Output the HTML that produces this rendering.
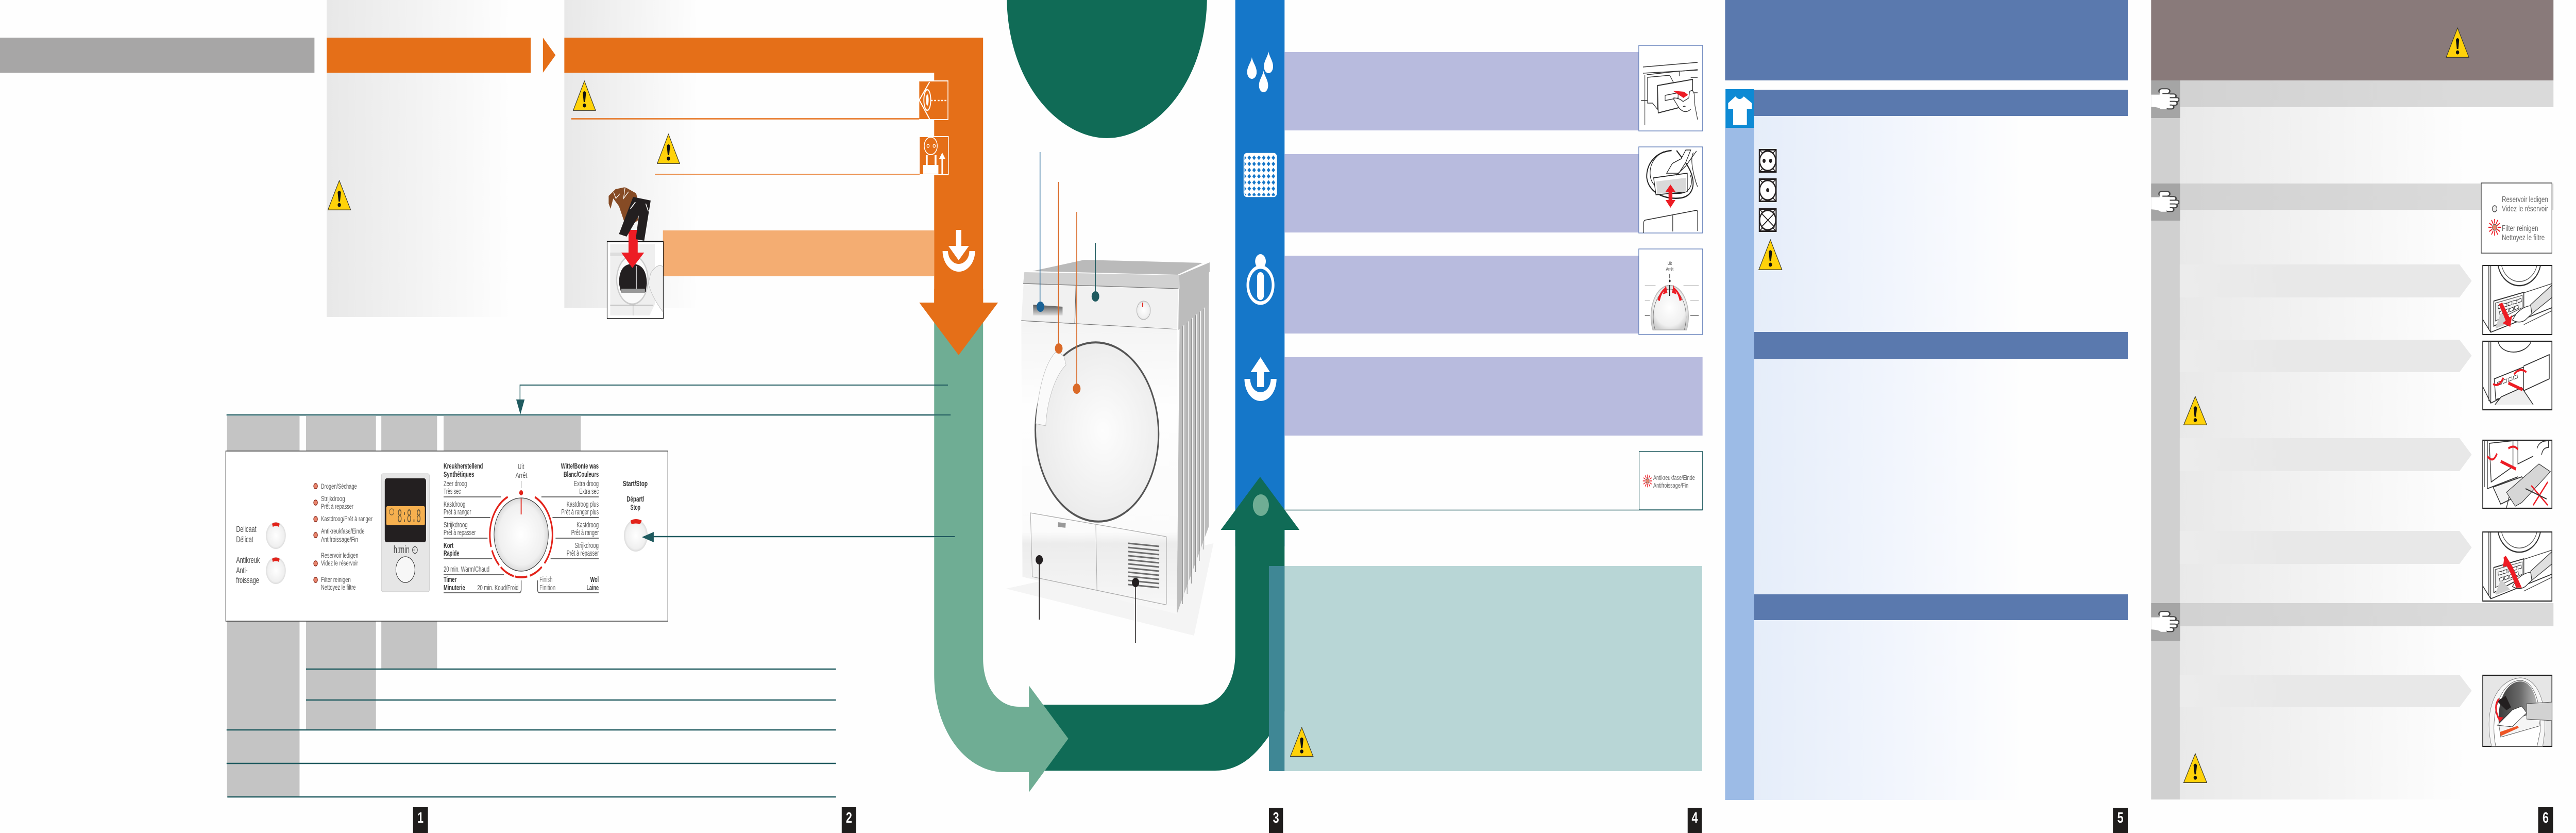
<!DOCTYPE html>
<html><head><meta charset="utf-8"><title>Dryer quick guide</title>
<style>
html,body{margin:0;padding:0;background:#fefefe;width:100%;height:100%;overflow:hidden}
svg{display:block;width:100vw;height:100vh}
text{font-family:"Liberation Sans",sans-serif}
</style></head><body>
<svg xmlns="http://www.w3.org/2000/svg" viewBox="0 0 6742 1616" preserveAspectRatio="none">
<defs>
<linearGradient id="g1" gradientUnits="userSpaceOnUse" x1="855" x2="1340" y1="0" y2="0"><stop offset="0" stop-color="#e8e8e8"/><stop offset="1" stop-color="#fefefe"/></linearGradient>
<linearGradient id="g2" gradientUnits="userSpaceOnUse" x1="1477" x2="1830" y1="0" y2="0"><stop offset="0" stop-color="#e8e8e8"/><stop offset="1" stop-color="#fefefe"/></linearGradient>
<linearGradient id="g5" gradientUnits="userSpaceOnUse" x1="4591" x2="5300" y1="0" y2="0"><stop offset="0" stop-color="#e5edf9"/><stop offset=".5" stop-color="#f1f5fd"/><stop offset="1" stop-color="#fefefe"/></linearGradient>
<linearGradient id="g6" gradientUnits="userSpaceOnUse" x1="5705" x2="6460" y1="0" y2="0"><stop offset="0" stop-color="#e9e9e9"/><stop offset=".5" stop-color="#f3f3f3"/><stop offset="1" stop-color="#fefefe"/></linearGradient>
<linearGradient id="g6b" gradientUnits="userSpaceOnUse" x1="5705" x2="6460" y1="0" y2="0"><stop offset="0" stop-color="#d2d2d2"/><stop offset="1" stop-color="#dadada"/></linearGradient>
<linearGradient id="gb" gradientUnits="userSpaceOnUse" x1="5705" x2="6000" y1="0" y2="0"><stop offset="0" stop-color="#ececec"/><stop offset="1" stop-color="#e8e8e8"/></linearGradient>
<linearGradient id="body" x1="0" x2="0" y1="0" y2="1"><stop offset="0" stop-color="#f4f4f4"/><stop offset=".3" stop-color="#fefefe"/><stop offset=".72" stop-color="#fbfbfb"/><stop offset=".76" stop-color="#ececec"/><stop offset="1" stop-color="#f8f8f8"/></linearGradient>
<radialGradient id="knob" cx=".5" cy=".5" r=".55"><stop offset="0" stop-color="#fff"/><stop offset=".75" stop-color="#f0f0f0"/><stop offset="1" stop-color="#cfcfcf"/></radialGradient>
<radialGradient id="door" cx=".55" cy=".5" r=".6"><stop offset="0" stop-color="#fdfdfd"/><stop offset="1" stop-color="#e9e9e9"/></radialGradient>
<linearGradient id="handle" x1="0" x2="0" y1="0" y2="1"><stop offset="0" stop-color="#555"/><stop offset="1" stop-color="#ddd"/></linearGradient>
<linearGradient id="drum" x1="0" x2="1" y1="0" y2="0"><stop offset="0" stop-color="#3c3c3c"/><stop offset=".55" stop-color="#6a6a6a"/><stop offset="1" stop-color="#bbb"/></linearGradient>
<pattern id="mesh" width="12.6" height="12" patternUnits="userSpaceOnUse"><rect width="12.6" height="12" fill="#fff"/><path d="M6.3 1.5L11 6L6.3 10.5L1.6 6Z" fill="#1577c9"/></pattern>
<symbol id="w" viewBox="0 0 100 100" preserveAspectRatio="none"><path d="M50 2L98 97H2Z" fill="#ffd20a" stroke="#3c3a2e" stroke-width="2.4"/><path d="M43 40Q50 30 57 40L53 70H47Z" fill="#111"/><ellipse cx="50" cy="81" rx="7" ry="6.5" fill="#111"/></symbol>
<symbol id="drop" viewBox="0 0 24 42" preserveAspectRatio="none"><path d="M12 0C14 10 24 18 24 29A12 13 0 0 1 0 29C0 18 10 10 12 0Z" fill="#fff"/></symbol>
<symbol id="hand" viewBox="0 0 100 100" preserveAspectRatio="none"><g fill="#fff" stroke="#444" stroke-width="5"><rect x="28" y="3" width="38" height="22" rx="10"/><rect x="58" y="27" width="30" height="18" rx="8"/><rect x="58" y="44" width="41" height="18" rx="8"/><rect x="58" y="61" width="34" height="18" rx="8"/><rect x="52" y="78" width="28" height="18" rx="8"/></g><path d="M0 30H30V12H40V28H66V90H55V97H34Q28 88 0 86Z" fill="#fff"/></symbol>
<symbol id="star" viewBox="0 0 40 40"><path d="M29 20H39M11 20H1M27.8 24.500L36.500 29.500M12.200 15.500L3.500 10.500M24.500 27.800L29.500 36.500M15.500 12.200L10.500 3.500M20 29V39M20 11V1M15.500 27.800L10.500 36.500M24.500 12.200L29.500 3.500M12.200 24.500L3.500 29.500M27.800 15.500L36.500 10.500" stroke="#ed1c24" stroke-width="2.600" fill="none"/><circle cx="20" cy="20" r="7" fill="#e9846c" stroke="#555" stroke-width="1.500"/></symbol>
<symbol id="care" viewBox="0 0 47 46" preserveAspectRatio="none"><rect x="1.500" y="1.500" width="44" height="43" fill="#fff" stroke="#231f20" stroke-width="3"/><path d="M2 2L10 8M45 2L37 8M2 44L10 38M45 44L37 38" stroke="#231f20" stroke-width="2"/><ellipse cx="23.500" cy="23" rx="21" ry="19" fill="#fff" stroke="#231f20" stroke-width="3"/></symbol>
<symbol id="doorimg" viewBox="0 0 182 133">
<rect width="182" height="133" fill="#fff"/>
<ellipse cx="96" cy="-11" rx="57" ry="50" fill="#fff" stroke="#333" stroke-width="2.500"/>
<ellipse cx="96" cy="-11" rx="48" ry="42" fill="#fff" stroke="#555" stroke-width="1.500"/>
<path d="M16 0V125M21 0V130M0 105L21 130L182 82" fill="none" stroke="#333" stroke-width="1.800"/>
<path d="M29 69L108 52V87L29 118Z" fill="#fff" stroke="#333" stroke-width="2"/>
<path d="M33 73L104 58V82L33 108Z" fill="#f3f3f3" stroke="#555" stroke-width="1.300"/>
<path d="M40 78l10-2l1 6l-10 2ZM53 75l10-2l1 6l-10 2ZM66 72l10-2l1 6l-10 2ZM79 69l10-2l1 6l-10 2ZM92 66l9-2l1 6l-9 2ZM44 90l10-3l1 6l-10 3ZM57 87l10-3l1 6l-10 3ZM70 84l10-3l1 6l-10 3ZM83 80l10-3l1 6l-10 3Z" fill="#fff" stroke="#333" stroke-width="1.200"/>
<path d="M33 120L48 92L72 112L36 122Z" fill="#cfcfcf"/>
<path d="M108 53L182 35V88L108 115" fill="none" stroke="#444" stroke-width="1.400"/>
<path d="M126 76L182 38V62L129 94Z" fill="#e0e0e0" stroke="#444" stroke-width="1.500"/>
<path d="M126 78Q105 80 88 94L78 106Q96 114 112 106L129 94Z" fill="#fff" stroke="#333" stroke-width="1.500"/>
</symbol>
</defs>

<rect width="6742" height="1616" fill="#fefefe"/>

<!-- PAGE 1 -->
<rect x="0" y="73" width="823" height="68" fill="#a7a6a6"/>
<rect x="855" y="0" width="500" height="615" fill="url(#g1)"/>
<rect x="855" y="73" width="534" height="68" fill="#e56f18"/>
<path d="M1421 73L1454 107L1421 141Z" fill="#e56f18"/>
<use href="#w" x="857" y="349" width="62" height="60"/>

<!-- teal leader lines -->
<g stroke="#1f5a5f" fill="none">
<path d="M2481 747H1361V776" stroke-width="2"/>
<path d="M593 805H2488" stroke-width="2.500"/>
</g>
<path d="M1351 775H1373L1362 804Z" fill="#1f5a5f"/>

<!-- grey columns -->
<g fill="#c4c4c4">
<rect x="594" y="807" width="190" height="68"/><rect x="801" y="807" width="183" height="68"/><rect x="998" y="807" width="146" height="68"/><rect x="1161" y="807" width="359" height="68"/>
<rect x="594" y="1205" width="190" height="340"/><rect x="801" y="1205" width="183" height="210"/><rect x="998" y="1205" width="146" height="92"/>
</g>
<g stroke="#1f5a5f" stroke-width="2.500">
<path d="M801 1298H2188M801 1358H2188M593 1416H2188M593 1481H2188M595 1546H2188"/>
</g>

<!-- control panel -->
<rect x="591" y="875" width="1157" height="330" fill="#fff" stroke="#444" stroke-width="1.600"/>
<g fill="#444" font-size="17">
<text x="618" y="1032" textLength="53" lengthAdjust="spacingAndGlyphs">Delicaat</text>
<text x="618" y="1052" textLength="45" lengthAdjust="spacingAndGlyphs">Délicat</text>
<text x="618" y="1092" textLength="62" lengthAdjust="spacingAndGlyphs">Antikreuk</text>
<text x="618" y="1112" textLength="30" lengthAdjust="spacingAndGlyphs">Anti-</text>
<text x="618" y="1131" textLength="60" lengthAdjust="spacingAndGlyphs">froissage</text>
</g>
<circle cx="722" cy="1039" r="26" fill="url(#knob)"/><circle cx="722" cy="1107" r="26" fill="url(#knob)"/>
<path d="M712 1016Q722 1011 732 1016L730 1022Q722 1019 714 1022Z" fill="#e2231a"/>
<path d="M712 1084Q722 1079 732 1084L730 1090Q722 1087 714 1090Z" fill="#e2231a"/>
<g fill="#e9846c" stroke="#8c2a1a" stroke-width="1.500">
<circle cx="826" cy="943" r="5"/><circle cx="826" cy="975" r="5"/><circle cx="826" cy="1007" r="5"/><circle cx="826" cy="1038" r="5"/><circle cx="826" cy="1093" r="5"/><circle cx="826" cy="1125" r="5"/>
</g>
<g fill="#555" font-size="14">
<text x="840" y="948" textLength="94" lengthAdjust="spacingAndGlyphs">Drogen/Séchage</text>
<text x="840" y="972" textLength="63" lengthAdjust="spacingAndGlyphs">Strijkdroog</text>
<text x="840" y="987" textLength="85" lengthAdjust="spacingAndGlyphs">Prêt à repasser</text>
<text x="840" y="1011" textLength="135" lengthAdjust="spacingAndGlyphs">Kastdroog/Prêt à ranger</text>
<text x="840" y="1035" textLength="114" lengthAdjust="spacingAndGlyphs">Antikreukfase/Einde</text>
<text x="840" y="1051" textLength="97" lengthAdjust="spacingAndGlyphs">Antifroissage/Fin</text>
<text x="840" y="1082" textLength="98" lengthAdjust="spacingAndGlyphs">Reservoir ledigen</text>
<text x="840" y="1097" textLength="97" lengthAdjust="spacingAndGlyphs">Videz le réservoir</text>
<text x="840" y="1129" textLength="78" lengthAdjust="spacingAndGlyphs">Filter reinigen</text>
<text x="840" y="1144" textLength="91" lengthAdjust="spacingAndGlyphs">Nettoyez le filtre</text>
</g>
<!-- display -->
<rect x="998" y="919" width="126" height="229" rx="4" fill="#e6e6e6" stroke="#c8c8c8"/>
<rect x="1007" y="928" width="108" height="124" rx="5" fill="#231f20"/>
<rect x="1011" y="982" width="101" height="37" rx="3" fill="#f6b04f"/>
<text x="1040" y="1013" font-size="37" fill="#6d5a38" textLength="62" lengthAdjust="spacingAndGlyphs" style="font-family:'Liberation Mono',monospace">8:8.8</text>
<circle cx="1025" cy="993" r="6" fill="none" stroke="#6d5a38" stroke-width="1.300"/>
<text x="1030" y="1073" font-size="20" fill="#444" textLength="42" lengthAdjust="spacingAndGlyphs">h:min</text>
<circle cx="1086" cy="1067" r="6.500" fill="none" stroke="#444" stroke-width="1.300"/>
<path d="M1086 1062V1067H1082" fill="none" stroke="#444"/>
<circle cx="1061" cy="1105" r="25" fill="#f7f7f7" stroke="#333" stroke-width="1.200"/>
<!-- programme labels -->
<g fill="#555" font-size="15">
<text x="1161" y="909" textLength="103" lengthAdjust="spacingAndGlyphs" font-weight="700" fill="#333">Kreukherstellend</text>
<text x="1161" y="925" textLength="80" lengthAdjust="spacingAndGlyphs" font-weight="700" fill="#333">Synthétiques</text>
<text x="1161" y="943" textLength="61" lengthAdjust="spacingAndGlyphs">Zeer droog</text>
<text x="1161" y="958" textLength="45" lengthAdjust="spacingAndGlyphs">Très sec</text>
<text x="1161" y="983" textLength="57" lengthAdjust="spacingAndGlyphs">Kastdroog</text>
<text x="1161" y="998" textLength="72" lengthAdjust="spacingAndGlyphs">Prêt à ranger</text>
<text x="1161" y="1023" textLength="63" lengthAdjust="spacingAndGlyphs">Strijkdroog</text>
<text x="1161" y="1038" textLength="84" lengthAdjust="spacingAndGlyphs">Prêt à repasser</text>
<text x="1161" y="1063" textLength="26" lengthAdjust="spacingAndGlyphs" font-weight="700" fill="#333">Kort</text>
<text x="1161" y="1078" textLength="41" lengthAdjust="spacingAndGlyphs" font-weight="700" fill="#333">Rapide</text>
<text x="1161" y="1109" textLength="120" lengthAdjust="spacingAndGlyphs">20 min. Warm/Chaud</text>
<text x="1161" y="1129" textLength="34" lengthAdjust="spacingAndGlyphs" font-weight="700" fill="#333">Timer</text>
<text x="1161" y="1145" textLength="56" lengthAdjust="spacingAndGlyphs" font-weight="700" fill="#333">Minuterie</text>
<text x="1249" y="1145" textLength="108" lengthAdjust="spacingAndGlyphs">20 min. Koud/Froid</text>
<text x="1468" y="909" textLength="99" lengthAdjust="spacingAndGlyphs" font-weight="700" fill="#333">Witte/Bonte was</text>
<text x="1475" y="925" textLength="92" lengthAdjust="spacingAndGlyphs" font-weight="700" fill="#333">Blanc/Couleurs</text>
<text x="1502" y="943" textLength="65" lengthAdjust="spacingAndGlyphs">Extra droog</text>
<text x="1516" y="958" textLength="51" lengthAdjust="spacingAndGlyphs">Extra sec</text>
<text x="1483" y="983" textLength="84" lengthAdjust="spacingAndGlyphs">Kastdroog plus</text>
<text x="1469" y="998" textLength="98" lengthAdjust="spacingAndGlyphs">Prêt à ranger plus</text>
<text x="1509" y="1023" textLength="58" lengthAdjust="spacingAndGlyphs">Kastdroog</text>
<text x="1495" y="1038" textLength="72" lengthAdjust="spacingAndGlyphs">Prêt à ranger</text>
<text x="1504" y="1063" textLength="63" lengthAdjust="spacingAndGlyphs">Strijkdroog</text>
<text x="1483" y="1078" textLength="84" lengthAdjust="spacingAndGlyphs">Prêt à repasser</text>
<text x="1412" y="1129" textLength="34" lengthAdjust="spacingAndGlyphs" fill="#777">Finish</text>
<text x="1412" y="1145" textLength="42" lengthAdjust="spacingAndGlyphs" fill="#777">Finition</text>
<text x="1545" y="1129" textLength="22" lengthAdjust="spacingAndGlyphs" font-weight="700" fill="#333">Wol</text>
<text x="1535" y="1145" textLength="32" lengthAdjust="spacingAndGlyphs" font-weight="700" fill="#333">Laine</text>
<text x="1355" y="910" textLength="17" lengthAdjust="spacingAndGlyphs">Uit</text>
<text x="1349" y="927" textLength="31" lengthAdjust="spacingAndGlyphs">Arrêt</text>
<text x="1630" y="943" textLength="65" lengthAdjust="spacingAndGlyphs" font-weight="700" fill="#333">Start/Stop</text>
<text x="1640" y="973" textLength="46" lengthAdjust="spacingAndGlyphs" font-weight="700" fill="#333">Départ/</text>
<text x="1650" y="989" textLength="26" lengthAdjust="spacingAndGlyphs" font-weight="700" fill="#333">Stop</text>
</g>
<g stroke="#555" stroke-width="1.800" fill="none">
<path d="M1161 964H1311M1161 1004H1283M1161 1044H1276M1161 1084H1288M1161 1115H1319"/>
<path d="M1417 964H1567M1446 1004H1567M1454 1044H1567M1441 1084H1567"/>
<path d="M1161 1150H1358Q1364 1150 1364 1144V1126"/>
<path d="M1407 1126V1144Q1407 1150 1413 1150H1567"/>
<path d="M1364 933V947" stroke-width="1.200"/>
</g>
<circle cx="1364" cy="956" r="5" fill="#e2231a"/>
<circle cx="1364" cy="1038" r="82" pathLength="360" fill="none" stroke="#e2231a" stroke-width="4" stroke-dasharray="106 7 25 5 23 2 27 4 24 5 81 51" stroke-dashoffset="-26" transform="rotate(-90 1364 1038)"/>
<circle cx="1364" cy="1037" r="71" fill="url(#knob)" stroke="#333" stroke-width="1.300"/>
<path d="M1364 967V998" stroke="#e2231a" stroke-width="2.500"/>
<circle cx="1664" cy="1039" r="31" fill="url(#knob)"/>
<path d="M1650 1010Q1664 1004 1680 1010L1675 1017Q1664 1014 1653 1017Z" fill="#e2231a"/>
<path d="M2499 1041H1706" stroke="#1f5a5f" stroke-width="2.500"/>
<path d="M1711 1032V1052L1680 1042Z" fill="#1f5a5f"/>
<rect x="1081" y="1566" width="39" height="50" fill="#1f1d1c"/><text x="1100.500" y="1596" font-size="29" font-weight="700" fill="#fff" text-anchor="middle">1</text>

<!-- PAGE 2 -->
<rect x="1477" y="0" width="360" height="597" fill="url(#g2)"/>
<rect x="1735" y="447" width="710" height="89" fill="#f4ad72"/>
<path d="M1477 73H2573V587H2612L2509 689L2406 587H2445V141H1477Z" fill="#e56f18"/>
<use href="#w" x="1499" y="156" width="61" height="60"/>
<use href="#w" x="1719" y="259" width="61" height="60"/>
<path d="M1495 230.500H2406" stroke="#e56f18" stroke-width="2.500"/>
<path d="M1714 338H2407" stroke="#e56f18" stroke-width="1.500"/>
<!-- eye icon -->
<rect x="2406" y="157" width="75" height="75" fill="#e56f18"/>
<path d="M2406 157H2481V232H2406" fill="none" stroke="#fff" stroke-width="2"/>
<g fill="none" stroke="#fff" stroke-width="2.500">
<path d="M2433 159L2406 194L2433 231"/>
<ellipse cx="2427" cy="194" rx="9" ry="20"/>
<ellipse cx="2427" cy="194" rx="3.500" ry="11" fill="#fff" stroke="none"/>
<path d="M2436 195H2478" stroke-dasharray="5 4"/>
</g>
<!-- plug icon -->
<rect x="2407" y="265" width="75" height="74" fill="#e56f18"/>
<path d="M2407 265H2482V339H2407" fill="none" stroke="#fff" stroke-width="2"/>
<ellipse cx="2436" cy="283" rx="17" ry="17" fill="none" stroke="#fff" stroke-width="2"/>
<circle cx="2429" cy="283" r="3" fill="none" stroke="#fff" stroke-width="1.500"/><circle cx="2445" cy="283" r="3" fill="none" stroke="#fff" stroke-width="1.500"/>
<path d="M2416 320H2423V301H2428V320H2446V301H2451V320H2456V337H2416Z" fill="#fff"/>
<path d="M2464 338V308H2458L2466 296L2474 308H2468V338Z" fill="#fff"/>
<!-- washer thumb -->
<rect x="1589" y="468" width="147" height="150" fill="#fff" stroke="#111" stroke-width="1.500"/>
<rect x="1589" y="467" width="147" height="3" fill="#111"/>
<path d="M1597 474H1714V590L1700 612H1597Z" fill="#efefef"/>
<path d="M1597 490H1640V497H1597Z" fill="#ddd"/>
<ellipse cx="1655" cy="543" rx="41" ry="47" fill="#fafafa" stroke="#ccc" stroke-width="3"/>
<path d="M1620 550Q1620 512 1655 512Q1692 512 1693 550L1690 566H1625Z" fill="#231f20"/>
<path d="M1666 516V566" stroke="#fff"/>
<path d="M1626 560H1688V568H1626Z" fill="#999"/>
<path d="M1597 592H1710M1657 592V612" stroke="#999" fill="none"/>
<path d="M1703 530Q1720 510 1735 517V605Q1705 575 1697 550Z" fill="#f1f1f1" stroke="#bbb"/>
<path d="M1593 380L1611 367L1636 363L1665 375L1674 403L1669 428L1645 440L1636 435L1620 400L1605 385L1598 405L1593 395Z" fill="#864b25"/>
<path d="M1606 373L1612 385L1622 376M1636 363L1632 385L1645 372" stroke="#fff" fill="none" stroke-width="1.500"/>
<path d="M1645 446H1669V490H1686L1655 520L1626 490H1645Z" fill="#ed1c24"/>
<path d="M1657 382L1703 389L1686 467L1664 464L1672 418L1640 459L1620 454Z" fill="#231f20"/>
<path d="M1663 392L1650 405M1690 395L1697 410" stroke="#fff" stroke-width="2"/>
<rect x="2203" y="1566" width="38" height="50" fill="#1f1d1c"/><text x="2222" y="1596" font-size="29" font-weight="700" fill="#fff" text-anchor="middle">2</text>

<!-- Big arrows -->
<path d="M3233 0H3362V1060H3233Z" fill="#1577c9"/>
<path d="M2720 1367H3142C3195 1367 3233 1325 3233 1268V1028H3195L3298 925L3401 1028H3362V1300L3362 1380L3321 1428C3290 1460 3250 1495 3180 1495H2720Z" fill="#106b56"/>
<path d="M2445 610H2573V1278C2573 1330 2610 1371 2667 1371H2693V1330L2796 1433L2693 1537V1498H2629C2530 1498 2445 1420 2445 1309Z" fill="#6fad94"/>
<path d="M2445 560H2573V587H2612L2509 689L2406 587H2445Z" fill="#e56f18"/>
<!-- load icon -->
<path d="M2467 487A42.500 40 0 0 0 2552 487H2537A28 25 0 0 1 2481 487Z" fill="#fff"/>
<path d="M2502 446H2516V477H2536L2509 505L2482 477H2502Z" fill="#fff"/>
<ellipse cx="3300" cy="980" rx="21" ry="21" fill="#6fad94"/>
<g stroke="#1f5a5f" stroke-width="2" fill="none"><path d="M1361 747H2481M593 805H2488M1706 1041H2499"/></g>

<!-- top green dome -->
<path d="M2635 0C2640 170 2780 268 2897 268C3014 268 3154 170 3159 0Z" fill="#106b56"/>

<!-- dryer -->
<path d="M2633 1142L3176 1054L3125 1233Z" fill="#f4f4f4"/>
<path d="M3088 572L3164 521V1021L3080 1191Z" fill="#bdbdbd"/>
<g stroke="#f4f4f4" stroke-width="2.500" fill="none"><path d="M3098 600V1172M3110 590V1154M3121 580V1134M3132 572V1112M3142 564V1090M3152 556V1068"/></g>
<g stroke="#8f8f8f" stroke-width="1.500" fill="none"><path d="M3095 603V1172M3107 593V1152M3118 583V1132M3129 575V1110M3139 567V1088M3149 559V1066"/></g>
<path d="M3086 534L3166 509V527L3163 530V590L3084 640Z" fill="#bcbcbc"/>
<path d="M2702 526L2838 504L3148 510L3082 533Z" fill="#bababa"/>
<path d="M2681 528L3086 534L3088 560L2678 550Z" fill="#d1d1d1"/>
<path d="M2679 550L3084 559L3080 639L2673 623Z" fill="#f1f1f1"/>
<path d="M2678 550L3084 560M2673 622L3080 639" stroke="#777" stroke-width="1.300" fill="none"/>
<path d="M2816 554L2813 628" stroke="#666" stroke-width="1.500" fill="none"/>
<path d="M2673 623L3080 639L3080 1191L2676 1119Z" fill="url(#body)"/>
<path d="M2704 591L2781 595V612L2704 612Z" fill="url(#handle)"/>
<ellipse cx="2993" cy="602" rx="18" ry="18" fill="url(#knob)" stroke="#aaa"/>
<path d="M2990 587V596" stroke="#e2231a" stroke-width="1.500"/>
<ellipse cx="2871" cy="838" rx="161" ry="174" transform="rotate(-8 2871 838)" fill="url(#door)" stroke="#555" stroke-width="4"/>
<path d="M2767 680C2730 705 2715 770 2711 822L2737 826C2740 780 2760 730 2790 708L2785 692Z" fill="#fafafa" stroke="#bbb"/>
<path d="M2697 995L3052 1041Q3053 1041 3053 1044V1170Q3053 1173 3050 1173L2702 1119Z" fill="none" stroke="#aaa" stroke-width="1.300"/>
<path d="M2868 1019L2871 1144" stroke="#aaa" stroke-width="1.300"/>
<g stroke="#6d6d6d" stroke-width="3"><path d="M2953 1054L3034 1060M2953 1062L3034 1068M2953 1070L3034 1076M2953 1078L3034 1084M2953 1086L3034 1092M2953 1094L3034 1100M2953 1102L3034 1108M2953 1110L3034 1116M2953 1118L3034 1124M2953 1126L3034 1132M2953 1134L3034 1140"/></g>
<rect x="2769" y="1014" width="20" height="9" fill="#999" transform="rotate(5 2779 1018)"/>
<g stroke-width="2" fill="none">
<path d="M2722 295V595" stroke="#1a6296"/>
<path d="M2770 353V676M2818 411V754" stroke="#da6a28"/>
<path d="M2867 471V575" stroke="#1f5a5f"/>
<path d="M2720 1086V1202M2972 1130V1247" stroke="#231f20"/>
</g>
<ellipse cx="2723" cy="595" rx="10" ry="10" fill="#1a6296"/>
<ellipse cx="2771" cy="676" rx="10" ry="10" fill="#da6a28"/>
<ellipse cx="2818" cy="754" rx="10" ry="10" fill="#da6a28"/>
<ellipse cx="2867" cy="575" rx="10" ry="10" fill="#1f5a5f"/>
<ellipse cx="2720" cy="1086" rx="9.500" ry="9" fill="#231f20"/>
<ellipse cx="2972" cy="1130" rx="9.500" ry="9" fill="#231f20"/>

<!-- blue icons -->
<use href="#drop" x="3264" y="111" width="25" height="42"/>
<use href="#drop" x="3308" y="100" width="24" height="42"/>
<use href="#drop" x="3295" y="137" width="24" height="42"/>
<rect x="3256" y="298" width="85" height="83" rx="7" fill="url(#mesh)" stroke="#fff" stroke-width="2.500"/>
<ellipse cx="3299" cy="553" rx="33" ry="35" fill="none" stroke="#fff" stroke-width="7"/>
<circle cx="3299" cy="507" r="14" fill="#fff"/>
<rect x="3290" y="528" width="18" height="54" rx="9" fill="#fff"/>
<path d="M3257 735A42 43 0 0 0 3341 735H3326A27 26 0 0 1 3272 735Z" fill="#fff"/>
<path d="M3299 693L3324 722H3308V751H3290V722H3273Z" fill="#fff"/>

<!-- PAGE 4 -->
<g fill="#b8bbde">
<rect x="3362" y="101" width="927" height="152"/><rect x="3362" y="299" width="927" height="152"/><rect x="3362" y="496" width="927" height="151"/><rect x="3362" y="693" width="1094" height="152"/>
</g>
<!-- image A -->
<rect x="4289" y="88" width="167" height="166" fill="#fff" stroke="#6b86bd" stroke-width="1.500"/>
<g fill="none" stroke="#333" stroke-width="1.500">
<path d="M4300 130L4443 121M4300 142L4443 136M4305 145V243M4295 195H4320"/>
<path d="M4310 145L4395 138V148M4400 138L4443 135"/>
<path d="M4312 150L4370 146L4380 160L4338 166V212L4325 200H4312Z" fill="#fff"/>
<path d="M4338 166L4430 154V202L4340 219Z" fill="#fff" stroke-width="2"/>
<path d="M4358 185L4392 180V190L4358 195Z" fill="#fff"/>
<path d="M4425 150H4443M4428 180H4443"/>
<path d="M4380 190Q4395 190 4405 197L4420 190L4422 178Q4430 172 4434 182L4436 205L4443 232M4380 192L4395 210Q4410 222 4425 212" fill="#fff"/>
</g>
<path d="M4378 176L4408 178L4418 184L4406 190Z" fill="#ed1c24"/>
<!-- image B -->
<rect x="4289" y="285" width="167" height="167" fill="#fff" stroke="#6b86bd" stroke-width="1.500"/>
<g fill="none" stroke="#222">
<path d="M4375 292C4330 295 4308 320 4310 345C4315 375 4360 388 4400 384C4430 380 4436 360 4428 340C4420 320 4400 305 4388 292" stroke-width="2.500"/>
<path d="M4355 294C4325 305 4315 325 4320 345C4326 365 4360 378 4400 375C4425 372 4432 355 4424 340" stroke-width="1.500"/>
<path d="M4328 345L4416 336V372L4334 378Z" fill="#fff" stroke-width="1.700"/>
<path d="M4335 352L4412 345V372L4337 376Z" fill="#d9d9d9" stroke="none"/>
<path d="M4362 336L4377 317L4400 308L4412 291L4425 291L4412 315L4394 336Z" fill="#fff" stroke-width="1.500"/>
<path d="M4387 340L4412 322L4440 293" stroke-width="1.500"/>
<path d="M4302 452V432Q4302 428 4306 427L4440 408Q4443 408 4443 412V448M4378 418V449" stroke-width="1.500"/>
<path d="M4432 296C4420 310 4438 355 4443 362" stroke-width="1.500"/>
</g>
<path d="M4372 358L4385 372H4377V388L4385 388L4372 403L4359 388H4367V372H4359Z" fill="#ed1c24"/>
<!-- image C -->
<rect x="4289" y="483" width="167" height="166" fill="#fff" stroke="#6b86bd" stroke-width="1.500"/>
<text x="4370" y="514" font-size="9" fill="#444" text-anchor="middle">Uit</text>
<text x="4370" y="525" font-size="9" fill="#444" text-anchor="middle">Arrêt</text>
<path d="M4370 531V540" stroke="#222" stroke-width="1.500"/><circle cx="4370" cy="545" r="2.500" fill="#222"/>
<path d="M4305 554H4333M4406 554H4446M4305 583H4318M4424 583H4446" stroke="#aaa" stroke-width="1"/>
<path d="M4305 612H4318M4424 612H4446" stroke="#222" stroke-width="1"/>
<path d="M4326 640A49 60 0 1 1 4414 640Z" fill="url(#knob)" stroke="#bbb" stroke-width="2"/>
<path d="M4332 640A43 54 0 1 1 4408 640" fill="none" stroke="#666" stroke-width="1"/>
<path d="M4370 553V574" stroke="#222" stroke-width="2.500"/>
<path d="M4338 582Q4344 566 4358 558L4360 553L4364 568L4352 571L4355 565Q4348 570 4344 584Z" fill="#ed1c24"/>
<path d="M4402 582Q4396 566 4382 558L4380 553L4376 568L4388 571L4385 565Q4392 570 4396 584Z" fill="#ed1c24"/>
<!-- Antikreuk -->
<path d="M3362 989.500H4456" stroke="#1f5a5f" stroke-width="1.500"/>
<rect x="4290" y="876" width="166" height="113" fill="#fff" stroke="#1f5a5f" stroke-width="1.500"/>
<use href="#star" x="4299" y="920" width="26" height="26"/>
<text x="4327" y="931" font-size="13" fill="#666" textLength="109" lengthAdjust="spacingAndGlyphs">Antikreukfase/Einde</text>
<text x="4327" y="946" font-size="13" fill="#666" textLength="92" lengthAdjust="spacingAndGlyphs">Antifroissage/Fin</text>
<!-- teal box -->
<rect x="3362" y="1098" width="1093" height="398" fill="#b8d6d6"/>
<rect x="3321" y="1098" width="41" height="398" fill="#3f8795"/>
<use href="#w" x="3376" y="1410" width="62" height="59"/>
<rect x="3321" y="1567" width="37" height="49" fill="#1f1d1c"/><text x="3339.500" y="1596" font-size="29" font-weight="700" fill="#fff" text-anchor="middle">3</text>
<rect x="4417" y="1567" width="37" height="49" fill="#1f1d1c"/><text x="4435.500" y="1596" font-size="29" font-weight="700" fill="#fff" text-anchor="middle">4</text>

<!-- PAGE 5 -->
<rect x="4515" y="0" width="1054" height="156" fill="#5a79ae"/>
<rect x="4591" y="225" width="978" height="1327" fill="url(#g5)"/>
<rect x="4515" y="248" width="76" height="1304" fill="#9cbbe6"/>
<rect x="4591" y="174" width="978" height="51" fill="#5a79ae"/>
<rect x="4591" y="644" width="978" height="52" fill="#5a79ae"/>
<rect x="4591" y="1153" width="978" height="50" fill="#5a79ae"/>
<rect x="4516" y="173" width="75" height="75" fill="#0e8ad4"/>
<path d="M4542 187Q4553 197 4564 187L4585 200V211H4572V242H4536V211H4523V200Z" fill="#fff"/>
<use href="#care" x="4603" y="289" width="47" height="46"/>
<use href="#care" x="4603" y="346" width="47" height="46"/>
<use href="#care" x="4603" y="404" width="47" height="46"/>
<circle cx="4617" cy="312" r="4" fill="#231f20"/><circle cx="4634" cy="312" r="4" fill="#231f20"/>
<circle cx="4626.500" cy="369" r="4" fill="#231f20"/>
<path d="M4609 413L4645 441M4645 413L4609 441" stroke="#231f20" stroke-width="2"/>
<use href="#w" x="4602" y="464" width="63" height="61"/>
<rect x="5530" y="1567" width="39" height="49" fill="#1f1d1c"/><text x="5549.500" y="1596" font-size="29" font-weight="700" fill="#fff" text-anchor="middle">5</text>

<!-- PAGE 6 -->
<rect x="5630" y="0" width="1053" height="156" fill="#897a7a"/>
<use href="#w" x="6401" y="53" width="62" height="60"/>
<rect x="5705" y="208" width="978" height="1343" fill="url(#g6)"/>
<rect x="5630" y="156" width="75" height="1395" fill="#d0d0d0"/>
<rect x="5706" y="156" width="977" height="52" fill="url(#g6b)"/>
<rect x="5706" y="356" width="977" height="51" fill="url(#g6b)"/>
<rect x="5706" y="1170" width="977" height="45" fill="url(#g6b)"/>
<rect x="5630" y="156" width="76" height="73" fill="#a5a5a5"/>
<rect x="5630" y="356" width="76" height="72" fill="#a5a5a5"/>
<rect x="5630" y="1170" width="76" height="73" fill="#a5a5a5"/>
<use href="#hand" x="5630" y="171" width="74" height="42"/>
<use href="#hand" x="5630" y="370" width="74" height="42"/>
<use href="#hand" x="5630" y="1185" width="74" height="42"/>
<g fill="url(#gb)">
<path d="M5705 513H6437L6469 545L6437 577H5705Z"/>
<path d="M5705 659H6437L6469 690L6437 722H5705Z"/>
<path d="M5705 850H6437L6469 882L6437 914H5705Z"/>
<path d="M5705 1030H6437L6469 1062L6437 1094H5705Z"/>
<path d="M5705 1309H6437L6469 1340L6437 1372H5705Z"/>
</g>
<use href="#w" x="5714" y="768" width="63" height="58"/>
<use href="#w" x="5714" y="1461" width="63" height="59"/>
<!-- box: reservoir -->
<rect x="6494" y="355" width="185" height="136" fill="#fff" stroke="#444" stroke-width="1.600"/>
<g fill="#666" font-size="16">
<text x="6548" y="392" textLength="121" lengthAdjust="spacingAndGlyphs">Reservoir ledigen</text>
<text x="6548" y="410" textLength="121" lengthAdjust="spacingAndGlyphs">Videz le réservoir</text>
<text x="6548" y="448" textLength="95" lengthAdjust="spacingAndGlyphs">Filter reinigen</text>
<text x="6548" y="466" textLength="112" lengthAdjust="spacingAndGlyphs">Nettoyez le filtre</text>
</g>
<ellipse cx="6529" cy="405" rx="6" ry="6" fill="#eee" stroke="#444" stroke-width="1.500"/>
<use href="#star" x="6512" y="424" width="34" height="34"/>
<!-- images -->
<use href="#doorimg" x="6498" y="515" width="181" height="133"/>
<rect x="6498" y="515" width="181" height="134" fill="none" stroke="#222" stroke-width="2.200"/>
<path d="M6540 590L6549 587L6568 616L6575 611L6570 634L6550 627L6558 622Z" fill="#ed1c24"/>

<rect x="6498" y="662" width="181" height="133" fill="#fff" stroke="#222" stroke-width="2.200"/>
<g fill="none" stroke="#333" stroke-width="1.800">
<path d="M6514 662V778M6519 662V782M6498 750L6519 782L6579 760"/>
<path d="M6538 662C6545 690 6610 690 6625 662"/>
<path d="M6528 735L6605 712V760L6532 775Z" fill="#fff"/>
<path d="M6605 710L6672 688V735L6605 758"/>
<path d="M6530 785L6546 770L6600 752L6630 785" fill="#eee"/>
</g>
<path d="M6536 742l10-3l1 6l-10 3ZM6550 738l10-3l1 6l-10 3ZM6564 734l10-3l1 6l-10 3ZM6578 730l10-3l1 6l-10 3Z" fill="#fff" stroke="#333"/>
<g fill="none" stroke="#ed1c24" stroke-width="4">
<path d="M6525 745Q6540 752 6552 733"/><path d="M6580 726Q6595 712 6612 722"/><path d="M6565 743L6602 756" stroke-width="6"/>
</g>

<rect x="6498" y="854" width="181" height="132" fill="#fff" stroke="#222" stroke-width="2.200"/>
<g fill="none" stroke="#333" stroke-width="1.800">
<path d="M6502 854V945M6510 854V948M6510 948L6590 925"/>
<path d="M6515 860L6577 855V905L6520 935Z" fill="#fff"/>
<path d="M6590 855V900L6630 885"/>
<path d="M6525 945L6600 925L6622 950L6545 978Z" fill="#f2f2f2"/>
<path d="M6560 985L6570 955Q6585 945 6600 950"/>
<path d="M6640 870Q6645 855 6670 855V868Q6655 868 6652 882"/>
</g>
<path d="M6583 982L6560 955L6645 900L6675 915L6600 975Z" fill="#d6d6d6" stroke="#333" stroke-width="1.300"/>
<path d="M6625 942L6668 980M6668 935L6630 980" stroke="#ed1c24" stroke-width="3"/>
<path d="M6610 948L6665 968" stroke="#333" stroke-width="2"/>
<g fill="none" stroke="#ed1c24" stroke-width="4">
<path d="M6510 885Q6525 900 6535 880"/><path d="M6565 870Q6580 862 6590 872"/><path d="M6545 895L6585 910" stroke-width="6"/>
</g>

<use href="#doorimg" x="6498" y="1032" width="181" height="133"/>
<rect x="6498" y="1032" width="181" height="134" fill="none" stroke="#222" stroke-width="2.200"/>
<path d="M6550 1100Q6555 1085 6552 1082L6558 1078L6575 1098L6600 1140L6585 1140Q6572 1110 6560 1098Z" fill="#ed1c24"/>

<rect x="6498" y="1310" width="181" height="138" fill="#e6e6e6" stroke="#222" stroke-width="2.200"/>
<path d="M6521 1448C6500 1380 6530 1320 6595 1315C6640 1315 6665 1360 6660 1420L6655 1448Z" fill="#f7f7f7" stroke="#777"/>
<path d="M6532 1448C6515 1385 6545 1322 6595 1320C6635 1320 6652 1370 6648 1420L6640 1448Z" fill="#fff" stroke="#555"/>
<path d="M6540 1405C6535 1360 6560 1320 6600 1322C6630 1325 6645 1360 6642 1405Z" fill="url(#drum)"/>
<path d="M6540 1405L6642 1380L6648 1408L6545 1430Z" fill="#f5f5f5" stroke="#555"/>
<path d="M6543 1420L6590 1408L6592 1412L6545 1428Z" fill="#ee5525"/>
<path d="M6536 1407L6576 1377L6600 1370L6613 1383L6600 1392L6575 1410Z" fill="#fff" stroke="#333"/>
<path d="M6535 1360L6558 1350L6572 1372L6560 1378Z" fill="#231f20"/>
<path d="M6613 1365L6679 1362V1398L6613 1395Z" fill="#d2d2d2" stroke="#444"/>
<path d="M6540 1395Q6525 1370 6540 1356" fill="none" stroke="#ed1c24" stroke-width="4"/>
<path d="M6536 1390L6552 1392L6542 1400Z" fill="#ed1c24"/>

<rect x="6643" y="1566" width="39" height="50" fill="#1f1d1c"/><text x="6662.500" y="1596" font-size="29" font-weight="700" fill="#fff" text-anchor="middle">6</text>
</svg>
</body></html>
